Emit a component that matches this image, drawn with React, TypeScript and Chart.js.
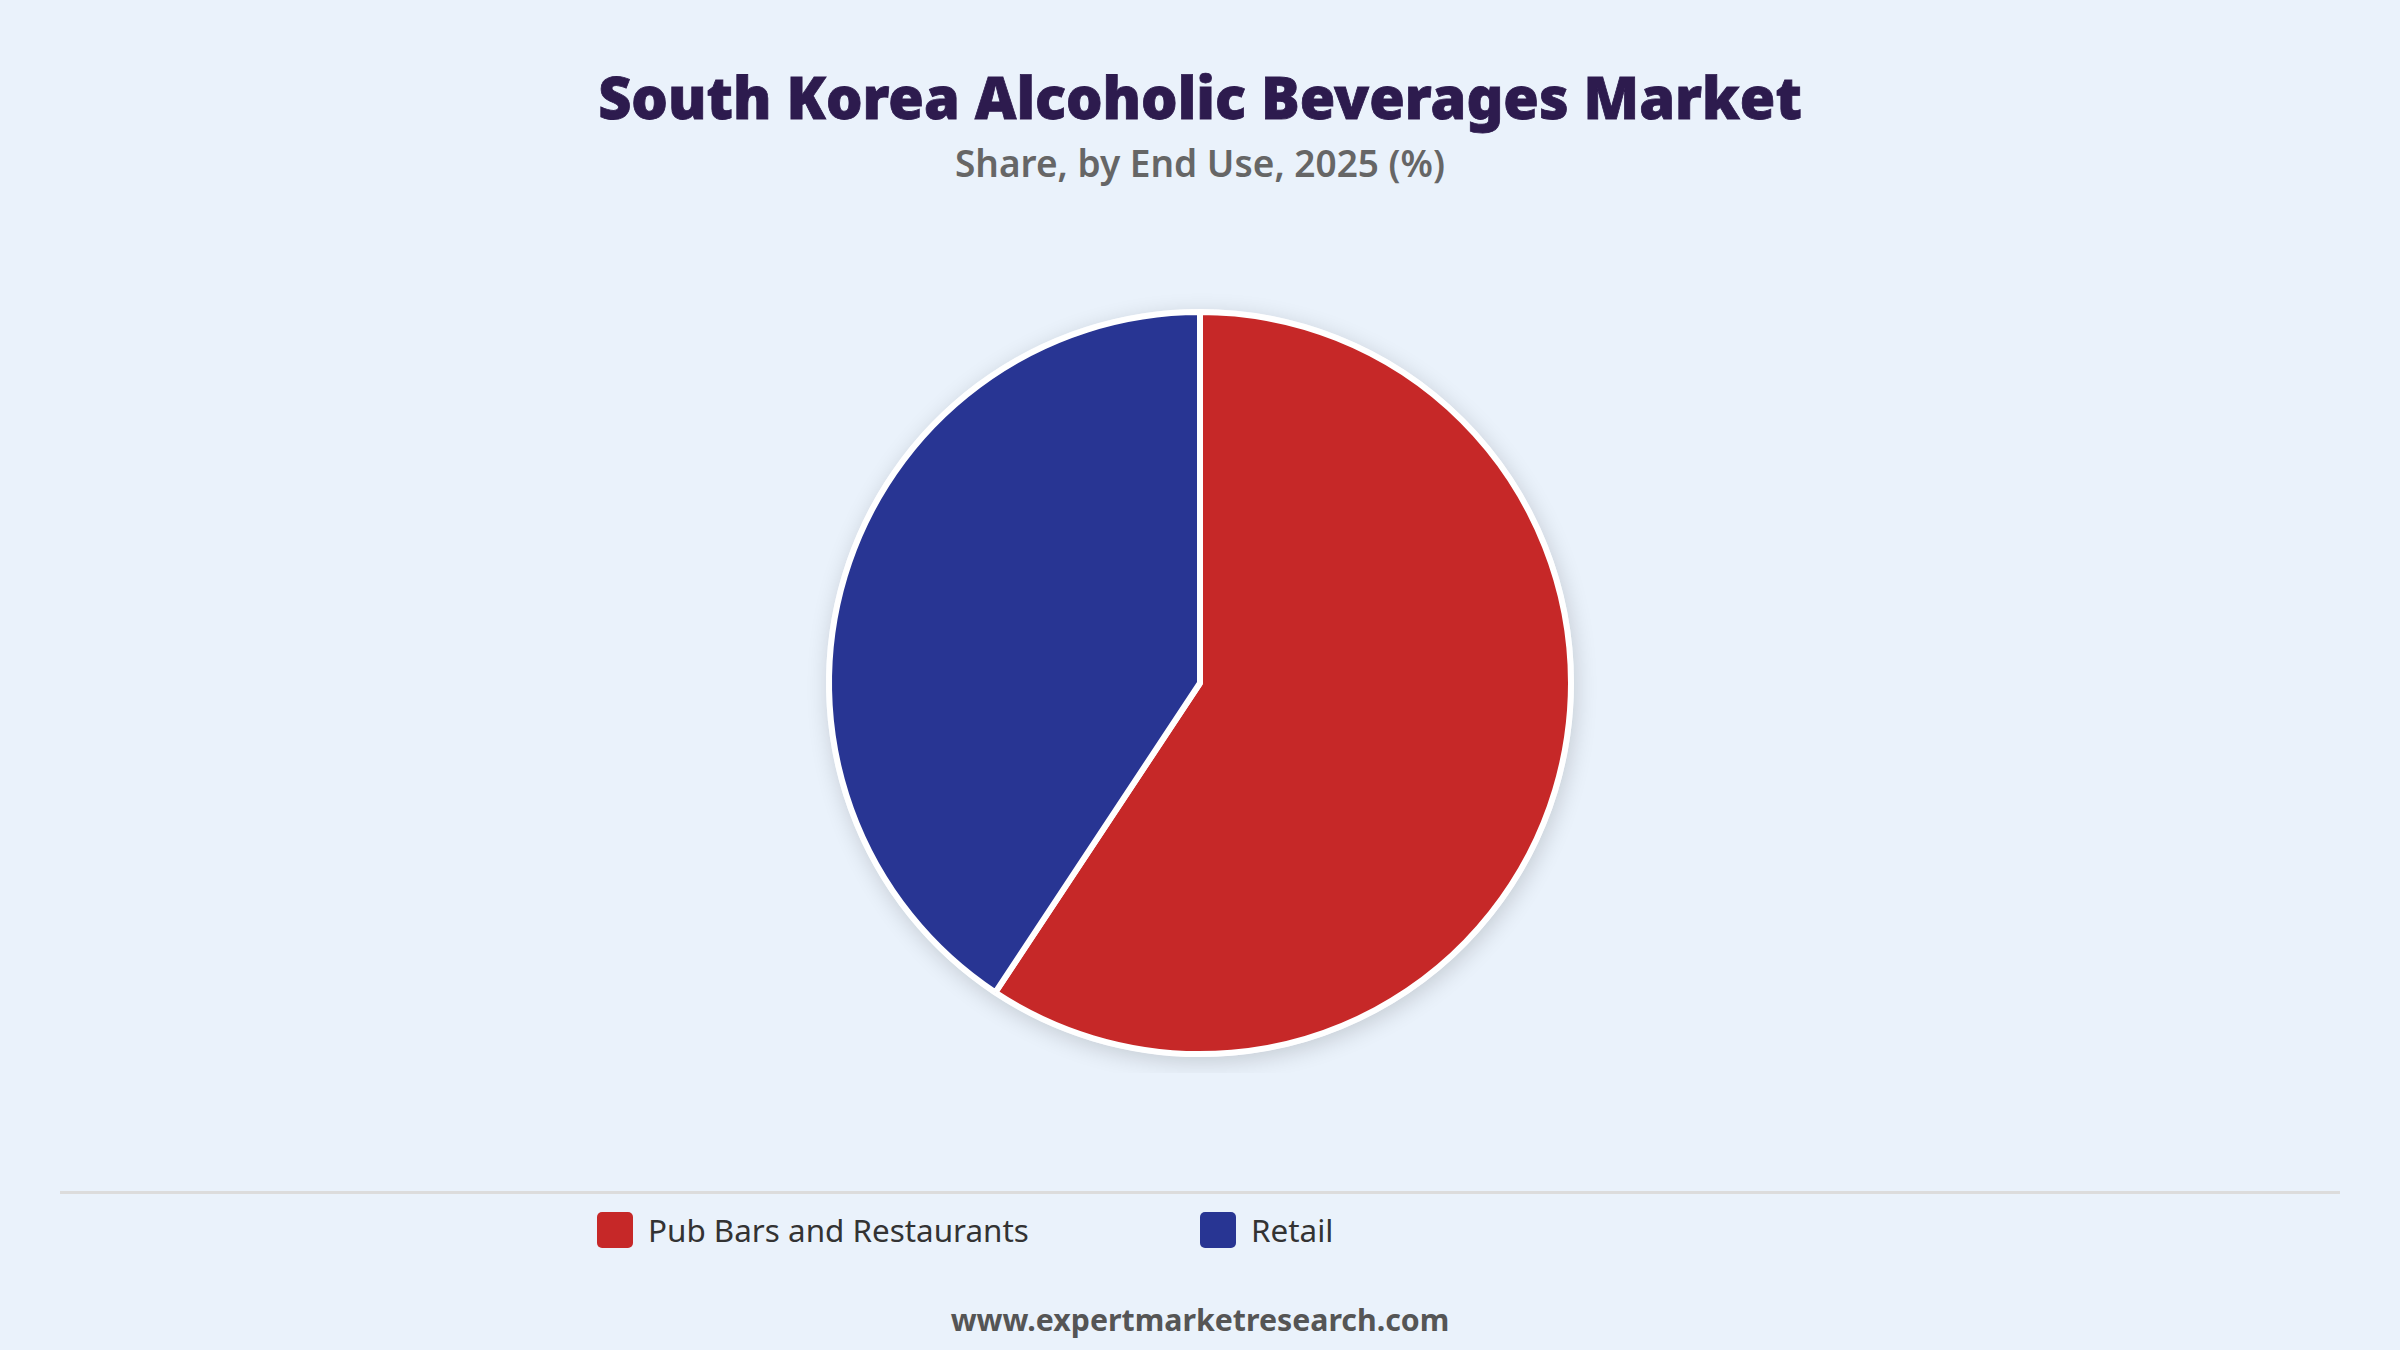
import Chart from 'chart.js/auto';
import { useEffect, useRef } from 'react';

const categories = ['Pub Bars and Restaurants', 'Retail'];
const shares = [59.3, 40.7];
const colors = ['#C62828', '#283593'];

const BG = '#EAF2FB';

// soft shadow under the pie, drawn from the arc element's own geometry
const pieShadow = {
  id: 'pieShadow',
  beforeDatasetsDraw(chart: any) {
    const arc = chart.getDatasetMeta(0).data[0];
    if (!arc) return;
    const { x, y, outerRadius } = arc.getProps(['x', 'y', 'outerRadius'], true);
    const ctx = chart.ctx;
    ctx.save();
    ctx.shadowColor = 'rgba(0,0,0,0.16)';
    ctx.shadowBlur = 22;
    ctx.shadowOffsetX = 2;
    ctx.shadowOffsetY = 5;
    ctx.beginPath();
    ctx.arc(x, y, outerRadius + 3, 0, Math.PI * 2);
    ctx.fillStyle = BG;
    ctx.fill();
    ctx.restore();
  },
};

export default function App() {
  const canvasRef = useRef<HTMLCanvasElement>(null);

  useEffect(() => {
    const chart = new Chart(canvasRef.current!, {
      type: 'pie',
      data: {
        labels: categories,
        datasets: [{
          data: shares,
          backgroundColor: colors,
          borderColor: '#ffffff',
          borderWidth: 6,
        }],
      },
      options: {
        animation: false,
        responsive: false,
        radius: 371,
        layout: { padding: 0 },
        plugins: { legend: { display: false }, tooltip: { enabled: false } },
      },
      plugins: [pieShadow],
    });
    return () => chart.destroy();
  }, []);

  return (
    <div style={{ position: 'absolute', left: 0, top: 0, width: 2400, height: 1350, background: BG, fontFamily: '"Noto Sans", sans-serif', overflow: 'hidden' }}>
      <div style={{ position: 'absolute', top: 67, width: '100%', textAlign: 'center', fontSize: 57.5, lineHeight: '60px', fontWeight: 900, color: '#2D1B4E', WebkitTextStroke: '0.8px #2D1B4E' }}>
        South Korea Alcoholic Beverages Market
      </div>
      <div style={{ position: 'absolute', top: 143, width: '100%', textAlign: 'center', fontSize: 37, lineHeight: '40px', fontWeight: 600, color: '#666666' }}>
        Share, by End Use, 2025 (%)
      </div>
      <canvas ref={canvasRef} width={2400} height={780} style={{ position: 'absolute', left: 0, top: 293, width: 2400, height: 780 }} />
      <div style={{ position: 'absolute', top: 1191, left: 60, width: 2280, height: 3, background: '#DCDCDC' }} />
      <div style={{ position: 'absolute', top: 1212, left: 597, display: 'flex' }}>
        {categories.map((c, i) => (
          <div key={c} style={{ width: 603, display: 'flex', alignItems: 'center' }}>
            <span style={{ width: 36, height: 36, borderRadius: 5, background: colors[i], marginRight: 15, flex: 'none' }} />
            <span style={{ fontSize: 31.4, lineHeight: '36px', color: '#333333' }}>{c}</span>
          </div>
        ))}
      </div>
      <div style={{ position: 'absolute', top: 1300, width: '100%', textAlign: 'center', fontSize: 30.3, lineHeight: '40px', fontWeight: 700, color: '#555555' }}>
        www.expertmarketresearch.com
      </div>
    </div>
  );
}
